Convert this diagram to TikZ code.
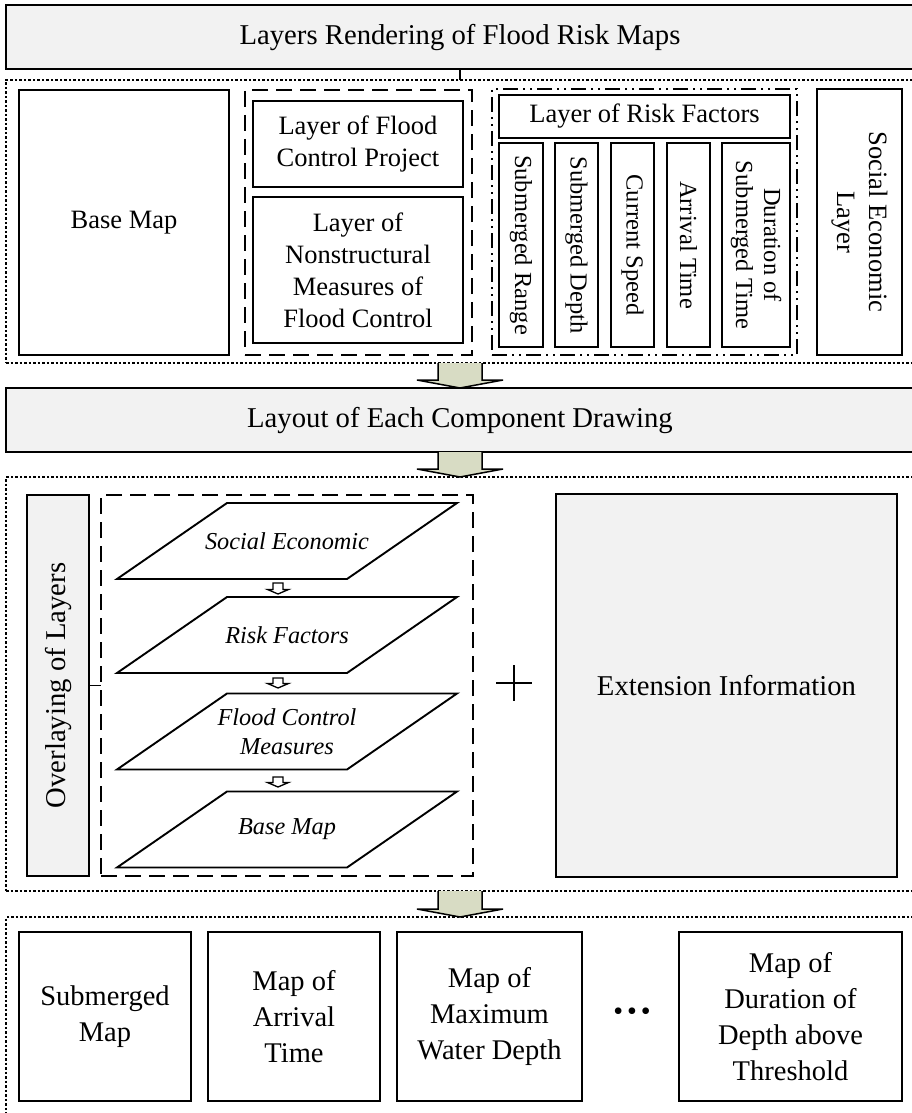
\documentclass[tikz,border=0pt]{standalone}
\usepackage{fontspec}
\setmainfont{Liberation Serif}
\usetikzlibrary{calc}
\definecolor{boxgray}{RGB}{242,242,242}
\definecolor{arrowfill}{RGB}{216,220,196}
\tikzset{
 every node/.style={inner sep=0pt, outer sep=0pt},
 sbox/.style={draw, line width=2.2pt, align=center, font=\fontsize{26.5}{32}\selectfont},
 gbox/.style={sbox, fill=boxgray, font=\fontsize{28.7}{36}\selectfont},
 dotbox/.style={draw, line width=1.6pt, dash pattern=on 2.5pt off 2pt},
 dashbox/.style={draw, line width=1.9pt, dash pattern=on 16pt off 8pt},
 dashdotbox/.style={draw, line width=1.9pt, dash pattern=on 15pt off 5pt on 2pt off 5pt on 2pt off 5pt},
 vbox/.style={sbox, font=\fontsize{24.5}{28}\selectfont},
 btext/.style={sbox, font=\fontsize{28.5}{36}\selectfont},
 barrow/.style={draw, line width=1.5pt, fill=arrowfill, line join=miter},
 sarrow/.style={draw, line width=1.3pt, fill=white, line join=miter},
 layer/.style={draw, line width=1.9pt, line join=miter},
 ltext/.style={align=center, font=\fontsize{24.3}{29}\selectfont\itshape},
 link/.style={draw, line width=2pt},
}
\newcommand\blockarrow[2]{%
 \draw[barrow] ($(#1)+(-22,0)$) -- ($(#2)+(-22,-8)$) -- ($(#2)+(-43,-8)$) -- (#2)
   -- ($(#2)+(43,-8)$) -- ($(#2)+(22,-8)$) -- ($(#1)+(22,0)$);}
\newcommand\smallarrow[2]{%
 \draw[sarrow] ($(#1)+(-5,0)$) -- ($(#2)+(-5,-4.5)$) -- ($(#2)+(-10.5,-4.5)$) -- (#2)
   -- ($(#2)+(10.5,-4.5)$) -- ($(#2)+(5,-4.5)$) -- ($(#1)+(5,0)$) -- cycle;}
\newcommand\paral[1]{%
 \draw[layer] ($(#1)+(-170,38)$) -- ($(#1)+(60,38)$) -- ($(#1)+(170,-38)$) -- ($(#1)+(-60,-38)$) -- cycle;}
\begin{document}
\begin{tikzpicture}[x=1pt,y=-1pt]
\useasboundingbox (0,0) rectangle (912,1113);
% ---------- top section
\node[gbox, minimum width=908pt, minimum height=64pt] (hdr) at (460,37) {Layers Rendering of Flood Risk Maps};
\node[dotbox, minimum width=908pt, minimum height=283pt] (dot1) at (460,221.5) {};
\draw[link] (hdr.south) -- (dot1.north);
\node[sbox, minimum width=210pt, minimum height=265pt] (basemap) at (124,222.5) {Base Map};
\node[dashbox, minimum width=227pt, minimum height=265pt] (grp1) at (358.5,222.5) {};
\node[sbox, minimum width=210pt, minimum height=86pt] (fcp) at (358,144) {Layer of Flood\\Control Project};
\node[sbox, minimum width=210pt, minimum height=146pt] (nsm) at (358,270) {Layer of\\Nonstructural\\Measures of\\Flood Control};
\node[dashdotbox, minimum width=305pt, minimum height=266pt] (grp2) at (644.5,222) {};
\node[sbox, minimum width=291pt, minimum height=43pt] (rf) at (644.5,116.5) {Layer of Risk Factors};
\node[vbox, rotate=-90, minimum width=204pt, minimum height=44pt] (rf1) at (521,245) {Submerged Range};
\node[vbox, rotate=-90, minimum width=204pt, minimum height=43pt] (rf2) at (576.5,245) {Submerged Depth};
\node[vbox, rotate=-90, minimum width=204pt, minimum height=43pt] (rf3) at (632.5,245) {Current Speed};
\node[vbox, rotate=-90, minimum width=204pt, minimum height=43pt] (rf4) at (688.5,245) {Arrival Time};
\node[vbox, rotate=-90, minimum width=204pt, minimum height=68pt] (rf5) at (756,245) {Duration of\\Submerged Time};
\node[sbox, rotate=-90, minimum width=266pt, minimum height=85pt] (soc) at (859.5,222) {Social Economic\\Layer};
% ---------- layout
\node[gbox, minimum width=908pt, minimum height=64pt] (layout) at (460,420) {Layout of Each Component Drawing};
\blockarrow{dot1.south}{layout.north}
% ---------- overlay section
\node[dotbox, minimum width=908pt, minimum height=414pt] (dot2) at (460,684) {};
\blockarrow{layout.south}{dot2.north}
\node[gbox, rotate=90, minimum width=381pt, minimum height=62pt] (overlay) at (58,685.5) {Overlaying of Layers};
\node[dashbox, minimum width=372pt, minimum height=381pt] (grp3) at (287,685.5) {};
\draw[link, line width=1.8pt] (overlay.south) -- (grp3.west);
\node[ltext] (pse) at (287,541) {Social Economic};
\node[ltext] (prf) at (287,635) {Risk Factors};
\node[ltext] (pfc) at (287,731.5) {Flood Control\\Measures};
\node[ltext] (pbm) at (287,829.5) {Base Map};
\paral{pse}
\paral{prf}
\paral{pfc}
\paral{pbm}
\smallarrow{$(pse)+(-9,42)$}{$(prf)+(-9,-41)$}
\smallarrow{$(prf)+(-9,43)$}{$(pfc)+(-9,-43.5)$}
\smallarrow{$(pfc)+(-9,45.5)$}{$(pbm)+(-9,-42.5)$}
\node (plus) at (514,683) {};
\draw[line width=1.4pt] ($(plus)+(-18,0)$) -- ($(plus)+(18,0)$) ($(plus)+(0,-18)$) -- ($(plus)+(0,18)$);
\node[gbox, minimum width=341pt, minimum height=383pt] (ext) at (726.5,685.5) {Extension Information};
% ---------- results
\node[dotbox, minimum width=908pt, minimum height=203pt] (dot3) at (460,1018.5) {};
\blockarrow{dot2.south}{dot3.north}
\node[btext, minimum width=172pt, minimum height=169pt] (m1) at (105,1016.5) {Submerged\\Map};
\node[btext, minimum width=172pt, minimum height=169pt] (m2) at (294,1016.5) {Map of\\Arrival\\Time};
\node[btext, minimum width=185pt, minimum height=169pt] (m3) at (489.5,1016.5) {Map of\\Maximum\\Water Depth};
\node[font=\fontsize{28}{30}\selectfont] (dots) at (632,1014) {\textbullet\hspace{4pt}\textbullet\hspace{4pt}\textbullet};
\node[btext, minimum width=223pt, minimum height=169pt] (m4) at (790.5,1016.5) {Map of\\Duration of\\Depth above\\Threshold};
\end{tikzpicture}
\end{document}
